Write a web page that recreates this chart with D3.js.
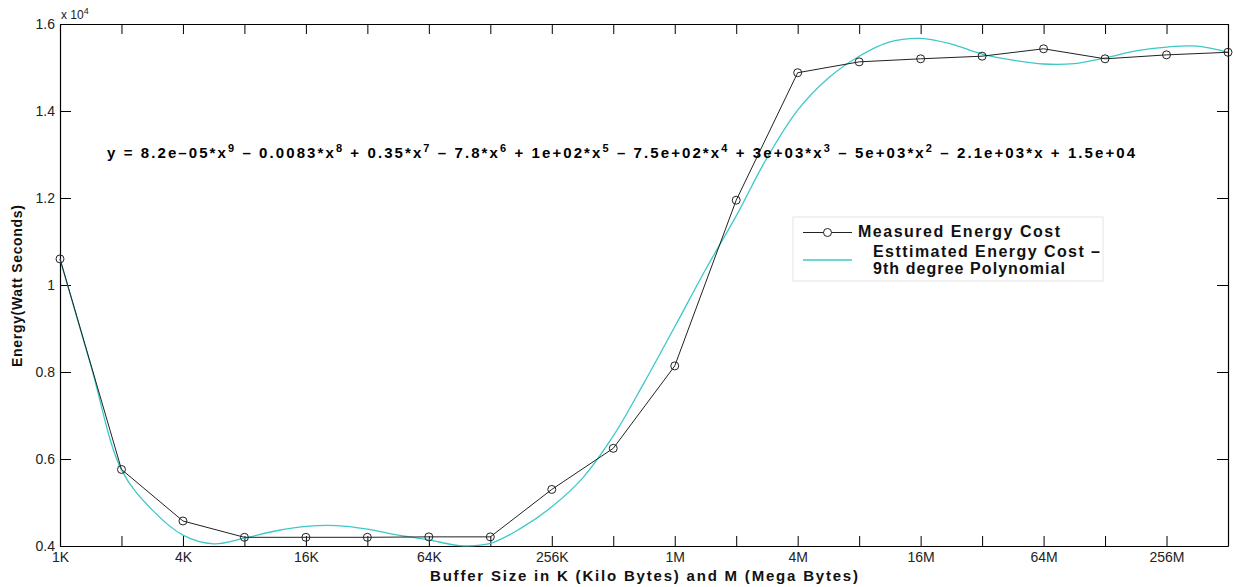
<!DOCTYPE html>
<html>
<head>
<meta charset="utf-8">
<script src="https://cdn.jsdelivr.net/npm/d3@7"></script>
<style>
  body { margin: 0; background: #fff; }
  svg { display: block; font-family: "Liberation Sans", Arial, sans-serif; }
</style>
</head>
<body>
<svg class="energyChart"></svg>
<script>
// buffer sizes, one per measurement
const sizeLabels = ["1K", "2K", "4K", "8K", "16K", "32K", "64K", "128K", "256K", "512K",
    "1M", "2M", "4M", "8M", "16M", "32M", "64M", "128M", "256M", "512M"];

// measured energy (Watt seconds)
const measuredEnergy = [10600, 5760, 4575, 4200, 4200, 4200, 4210, 4210, 5300, 6245,
    8140, 11950, 14880, 15130, 15200, 15260, 15430, 15200, 15290, 15350];

// 9th degree polynomial curve at half steps
const fitPosition = [0, 0.5, 1, 1.5, 2, 2.5, 3, 3.5, 4, 4.5, 5, 5.5, 6, 6.5, 7, 7.5, 8, 8.5, 9, 9.5,
    10, 10.5, 11, 11.5, 12, 12.5, 13, 13.5, 14, 14.5, 15, 15.5, 16, 16.5, 17, 17.5, 18, 18.5, 19];
const fitEnergy = [10600, 8160, 5750, 4830, 4250, 4050, 4180, 4345, 4450, 4470, 4390, 4250, 4140, 4010,
    4060, 4410, 4900, 5560, 6530, 7750, 9040, 10350, 11590, 12920, 14020, 14760, 15260, 15590, 15670,
    15540, 15310, 15170, 15080, 15090, 15220, 15380, 15470, 15490, 15350];

const yTicks = [4000, 6000, 8000, 10000, 12000, 14000, 16000];

const equationParts = [
    ["y = 8.2e\u201305*x", "9"], [" \u2013 0.0083*x", "8"], [" + 0.35*x", "7"], [" \u2013 7.8*x", "6"],
    [" + 1e+02*x", "5"], [" \u2013 7.5e+02*x", "4"], [" + 3e+03*x", "3"], [" \u2013 5e+03*x", "2"],
    [" \u2013 2.1e+03*x + 1.5e+04", null]
];

const svgWidth = 1233, svgHeight = 587;
const margin = { top: 24, right: 5, bottom: 41, left: 60 };
const width = svgWidth - margin.left - margin.right;
const height = svgHeight - margin.top - margin.bottom;

const svg = d3.select(".energyChart")
    .attr("width", svgWidth)
    .attr("height", svgHeight);

const plot = svg.append("g")
    .attr("transform", `translate(${margin.left},${margin.top})`);

const x = d3.scaleLinear().domain([0, sizeLabels.length - 1]).range([0, width]);
const y = d3.scaleLinear().domain([4000, 16000]).range([height, 0]);

// stretch a text to a given width with letter spacing
function fitWidth(sel, target) {
    const node = sel.node();
    const w = node.getComputedTextLength();
    const n = node.getNumberOfChars();
    sel.attr("letter-spacing", (target - w) / (n - 1));
}

// Axes (MATLAB style box, ticks pointing inward)
plot.append("g")
    .attr("transform", `translate(0,${height})`)
    .call(d3.axisBottom(x)
        .tickValues(d3.range(sizeLabels.length))
        .tickFormat(i => i % 2 === 0 ? sizeLabels[i] : "")
        .tickSizeInner(-10).tickSizeOuter(0).tickPadding(6));
plot.append("g")
    .call(d3.axisTop(x).tickValues(d3.range(sizeLabels.length)).tickFormat("")
        .tickSizeInner(-10).tickSizeOuter(0));
plot.append("g")
    .call(d3.axisLeft(y).tickValues(yTicks)
        .tickFormat(d => +(d / 1e4).toFixed(1))
        .tickSizeInner(-11).tickSizeOuter(0).tickPadding(5));
plot.append("g")
    .attr("transform", `translate(${width},0)`)
    .call(d3.axisRight(y).tickValues(yTicks).tickFormat("")
        .tickSizeInner(-11).tickSizeOuter(0));

plot.selectAll(".domain").attr("stroke", "#000").attr("stroke-width", 1.2);
plot.selectAll(".tick line").attr("stroke", "#000").attr("stroke-width", 1);
plot.selectAll(".tick text").attr("fill", "#222").style("font-size", "14px")
    .style("font-family", "\"Liberation Sans\", Arial, sans-serif");

// scale factor
const expo = svg.append("text")
    .attr("x", 61).attr("y", 19)
    .style("font-size", "12px").attr("fill", "#222");
expo.append("tspan").text("x 10");
expo.append("tspan").attr("dy", -5).style("font-size", "9px").text("4");

// Fitted curve
plot.append("path")
    .datum(fitPosition.map((p, i) => [p, fitEnergy[i]]))
    .attr("fill", "none")
    .attr("stroke", "#3cc8c8")
    .attr("stroke-width", 1.3)
    .attr("d", d3.line().x(d => x(d[0])).y(d => y(d[1])).curve(d3.curveCatmullRom));

// Measured line + circle markers
plot.append("path")
    .datum(measuredEnergy)
    .attr("fill", "none")
    .attr("stroke", "#222")
    .attr("stroke-width", 1)
    .attr("d", d3.line().x((d, i) => x(i)).y(d => y(d)));

plot.selectAll("circle.pt")
    .data(measuredEnergy)
    .enter().append("circle")
    .attr("class", "pt")
    .attr("cx", (d, i) => x(i))
    .attr("cy", d => y(d))
    .attr("r", 4)
    .attr("fill", "none")
    .attr("stroke", "#222")
    .attr("stroke-width", 1);

// Equation
const eq = svg.append("text")
    .attr("x", 107).attr("y", 158)
    .style("font-size", "15px").style("font-weight", "bold").attr("fill", "#000");
let raised = false;
equationParts.forEach(([base, sup]) => {
    eq.append("tspan").attr("dy", raised ? 6 : null).text(base);
    raised = false;
    if (sup) {
        eq.append("tspan").attr("dy", -6).style("font-size", "11px").text(sup);
        raised = true;
    }
});
fitWidth(eq, 1028);

// Legend
const legend = svg.append("g");
legend.append("rect")
    .attr("x", 793).attr("y", 217).attr("width", 310).attr("height", 64)
    .attr("fill", "#fff").attr("stroke", "#e4e4e4");
legend.append("line")
    .attr("x1", 803).attr("x2", 852).attr("y1", 232.5).attr("y2", 232.5)
    .attr("stroke", "#222");
legend.append("circle")
    .attr("cx", 827.5).attr("cy", 232.5).attr("r", 4)
    .attr("fill", "#fff").attr("stroke", "#222");
legend.append("line")
    .attr("x1", 803).attr("x2", 852).attr("y1", 260).attr("y2", 260)
    .attr("stroke", "#3cc8c8").attr("stroke-width", 1.3);
const legendTexts = [
    { text: "Measured Energy Cost", x: 858, y: 237, w: 202 },
    { text: "Esttimated Energy Cost \u2013", x: 873, y: 257, w: 227 },
    { text: "9th degree Polynomial", x: 873, y: 274, w: 192 }
];
legendTexts.forEach(t => {
    const el = legend.append("text")
        .attr("x", t.x).attr("y", t.y)
        .style("font-size", "16px").style("font-weight", "bold").attr("fill", "#111")
        .text(t.text);
    fitWidth(el, t.w);
});

// Axis labels
const xLabel = svg.append("text")
    .attr("x", 430).attr("y", 581)
    .style("font-size", "15px").style("font-weight", "bold").attr("fill", "#111")
    .text("Buffer Size in K (Kilo Bytes) and M (Mega Bytes)");
fitWidth(xLabel, 428);

const yLabel = svg.append("text")
    .attr("transform", "rotate(-90)")
    .attr("x", -367).attr("y", 22)
    .style("font-size", "14px").style("font-weight", "bold").attr("fill", "#111")
    .text("Energy(Watt Seconds)");
fitWidth(yLabel, 162);
</script>
</body>
</html>
